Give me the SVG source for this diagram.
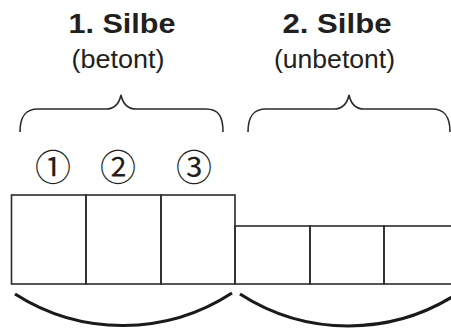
<svg xmlns="http://www.w3.org/2000/svg" width="451" height="329" viewBox="0 0 451 329">
<style>
.title{font-family:"Liberation Sans",Arial,sans-serif;font-weight:bold;font-size:28px;fill:#231f20;text-anchor:middle}
.sub{font-family:"Liberation Sans",Arial,sans-serif;font-size:26px;fill:#231f20;text-anchor:middle}
.num{font-family:"Noto Sans CJK JP","DejaVu Sans",sans-serif;font-size:36px;fill:#231f20;text-anchor:middle}
.box{fill:none;stroke:#2b2b2b;stroke-width:1.6}
.brace{fill:none;stroke:#2b2b2b;stroke-width:1.6}
.arc{fill:none;stroke:#1a1a1a;stroke-width:3.2}
</style>
<rect width="451" height="329" fill="#fff"/>
<g id="label1">
<text class="title" x="122" y="33" textLength="107" lengthAdjust="spacingAndGlyphs">1. Silbe</text>
<text class="sub" x="118" y="68" textLength="93" lengthAdjust="spacingAndGlyphs">(betont)</text>
</g>
<g id="label2">
<text class="title" x="337" y="33" textLength="109" lengthAdjust="spacingAndGlyphs">2. Silbe</text>
<text class="sub" x="334.5" y="68" textLength="121" lengthAdjust="spacingAndGlyphs">(unbetont)</text>
</g>
<g id="braces">
<path class="brace" d="M20,132 C20,117 25,109 38,109 L106,109 C114,109 119,104 121,95 C123,104 128,109 136,109 L206,109 C219,109 223,117 223,132"/>
<path class="brace" d="M248,132 C248,117 253,109 266,109 L334,109 C342,109 347,104 349,95 C351,104 356,109 364,109 L432,109 C445,109 450,117 450,132"/>
</g>
<g id="numbers">
<text class="num" x="53" y="180.5">①</text>
<text class="num" x="118" y="180.5">②</text>
<text class="num" x="194" y="180.5">③</text>
</g>
<g id="boxes">
<rect class="box" x="11.5" y="195" width="74.5" height="89"/>
<rect class="box" x="86" y="195" width="75" height="89"/>
<rect class="box" x="161" y="195" width="74" height="89"/>
<rect class="box" x="235" y="226" width="75" height="58"/>
<rect class="box" x="310" y="226" width="74" height="58"/>
<rect class="box" x="384" y="226" width="74" height="58"/>
</g>
<g id="connectors">
<path class="arc" d="M15,294 A200,200 0 0 0 232,293"/>
<path class="arc" d="M240,294 A200,200 0 0 0 457,294"/>
</g>
</svg>
